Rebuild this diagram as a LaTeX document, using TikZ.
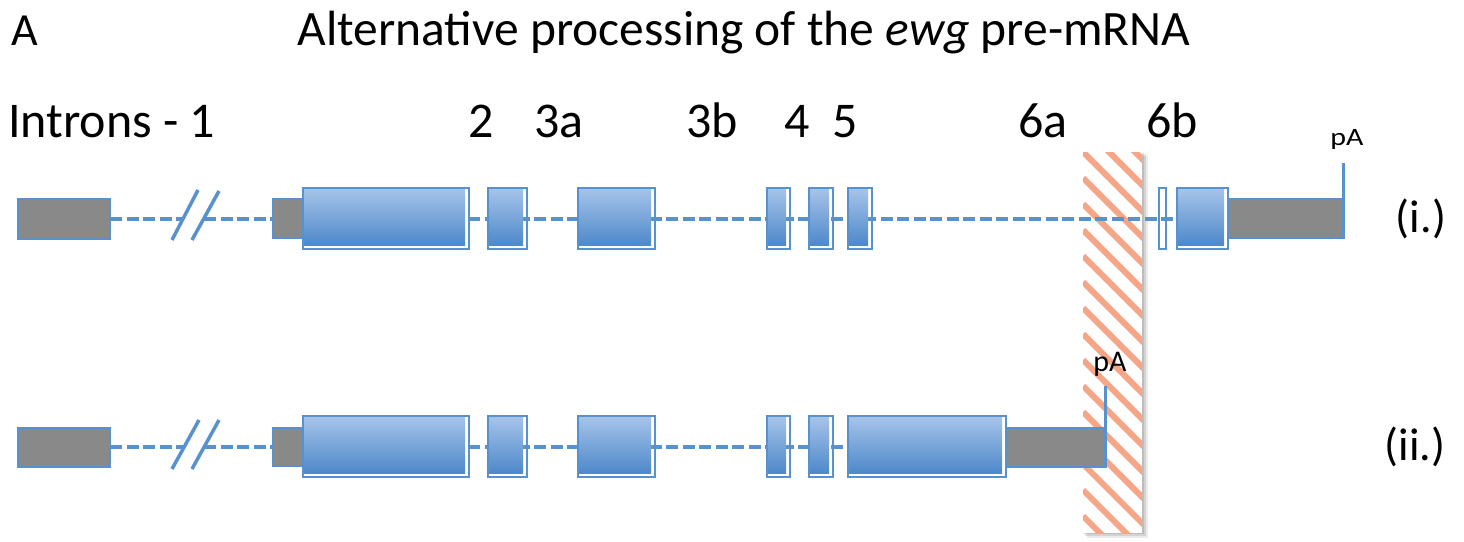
\documentclass[tikz,border=0pt]{standalone}
\usepackage{fontspec}
\setmainfont{Carlito}
\definecolor{blueC}{RGB}{88,146,206}
\definecolor{exTop}{RGB}{167,196,234}
\definecolor{exBot}{RGB}{78,137,202}
\definecolor{utrC}{RGB}{137,137,137}
\definecolor{hatchC}{RGB}{246,166,134}
\newcommand\exonbox[4]{%
  \fill[top color=exTop,bottom color=exBot] (#1,#2) rectangle ({#3-4},{#4-4});
  \draw[exline] (#1,#2) rectangle (#3,#4);}
\newcommand\utrbox[4]{%
  \draw[utr] (#1,#2) rectangle (#3,#4);}
\begin{document}
\begin{tikzpicture}[x=1pt,y=-1pt,
  exline/.style={draw=blueC,line width=2.5pt},
  utr/.style={fill=utrC,draw=blueC,line width=2.5pt},
  intron/.style={draw=blueC,line width=4.5pt,dash pattern=on 12pt off 4.5pt},
  slash/.style={draw=blueC,line width=3.5pt},
  pa/.style={draw=blueC,line width=3pt},
  lbl/.style={font=\fontsize{50}{55}\selectfont,anchor=base,inner sep=0pt},
  ttl/.style={font=\fontsize{49.5}{54}\selectfont,anchor=base,inner sep=0pt},
  side/.style={font=\fontsize{46}{50}\selectfont,anchor=base,inner sep=0pt},
  palbl/.style={anchor=base,inner sep=0pt}]
\useasboundingbox (0,0) rectangle (1464,541);
% polyadenylation window (hatched)
\begin{scope}
  \fill[black,opacity=.08] (1087,156) rectangle (1148,538);
  \fill[black,opacity=.10] (1085,154) rectangle (1146,536);
  \fill[black,opacity=.10] (1084,153) rectangle (1144,534);
  \fill[white] (1083,152) rectangle (1142,533);
  \clip (1083,152) rectangle (1142,533);
  \foreach \k in {-104,-78,...,420} \draw[hatchC,line width=6pt] (1083,{152+\k}) -- ++(90,90);
\end{scope}
% ---- row (i)
\coordinate (ia) at (110,219); \coordinate (ib) at (183,219);
\coordinate (ic) at (204,219); \coordinate (id) at (1177,219);
\draw[intron] (ia) -- (ib);
\draw[intron] (ic) -- (id);
\draw[slash] (172,240) -- (198,190);
\draw[slash] (192,240) -- (219,191);
\utrbox{18}{199}{110}{239}
\utrbox{273}{199}{305}{238}
\exonbox{303}{188}{469}{249}
\exonbox{488}{188}{527}{249}
\exonbox{578}{188}{655}{249}
\exonbox{767}{188}{790}{249}
\exonbox{809}{188}{833}{249}
\exonbox{848}{188}{872}{249}
\draw[draw=blueC,line width=2pt] (1159,188) rectangle (1166,249);
\exonbox{1177}{188}{1228}{249}
\utrbox{1228}{199}{1344}{238}
\coordinate (pa1a) at (1343,163); \coordinate (pa1b) at (1343,238);
\draw[pa] (pa1a) -- (pa1b);
% ---- row (ii)
\coordinate (iia) at (110,447); \coordinate (iib) at (183,447);
\coordinate (iic) at (204,447); \coordinate (iid) at (848,447);
\draw[intron] (iia) -- (iib);
\draw[intron] (iic) -- (iid);
\draw[slash] (172,469) -- (199,420);
\draw[slash] (192,469) -- (219,420);
\utrbox{18}{428}{110}{467}
\utrbox{273}{428}{305}{466}
\exonbox{303}{416}{469}{477}
\exonbox{488}{416}{527}{477}
\exonbox{578}{416}{655}{477}
\exonbox{767}{416}{790}{477}
\exonbox{809}{416}{833}{477}
\exonbox{848}{416}{1006}{477}
\utrbox{1006}{428}{1106}{467}
\coordinate (pa2a) at (1105,386); \coordinate (pa2b) at (1105,467);
\draw[pa] (pa2a) -- (pa2b);
% ---- texts
\node[side] (A) at (25,45) {A};
\node[ttl] (title) at (744,45) {Alternative processing of the \textit{ewg} pre-mRNA};
\node[lbl,anchor=base west] (introns) at (8,137) {Introns - 1};
\node[lbl] (l2) at (481,137) {2};
\node[lbl] (l3a) at (559,137) {3a};
\node[lbl] (l3b) at (712,137) {3b};
\node[lbl] (l4) at (797,137) {4};
\node[lbl] (l5) at (845,137) {5};
\node[lbl] (l6a) at (1043,137) {6a};
\node[lbl] (l6b) at (1172,137) {6b};
\node[palbl,font=\fontsize{25}{27}\selectfont,xscale=1.2] (pA1) at (1347,145) {pA};
\node[palbl,font=\fontsize{30}{32}\selectfont] (pA2) at (1110,371) {pA};
\node[side] (ri) at (1421,232) {(i.)};
\node[side] (rii) at (1415,460) {(ii.)};
\end{tikzpicture}
\end{document}
